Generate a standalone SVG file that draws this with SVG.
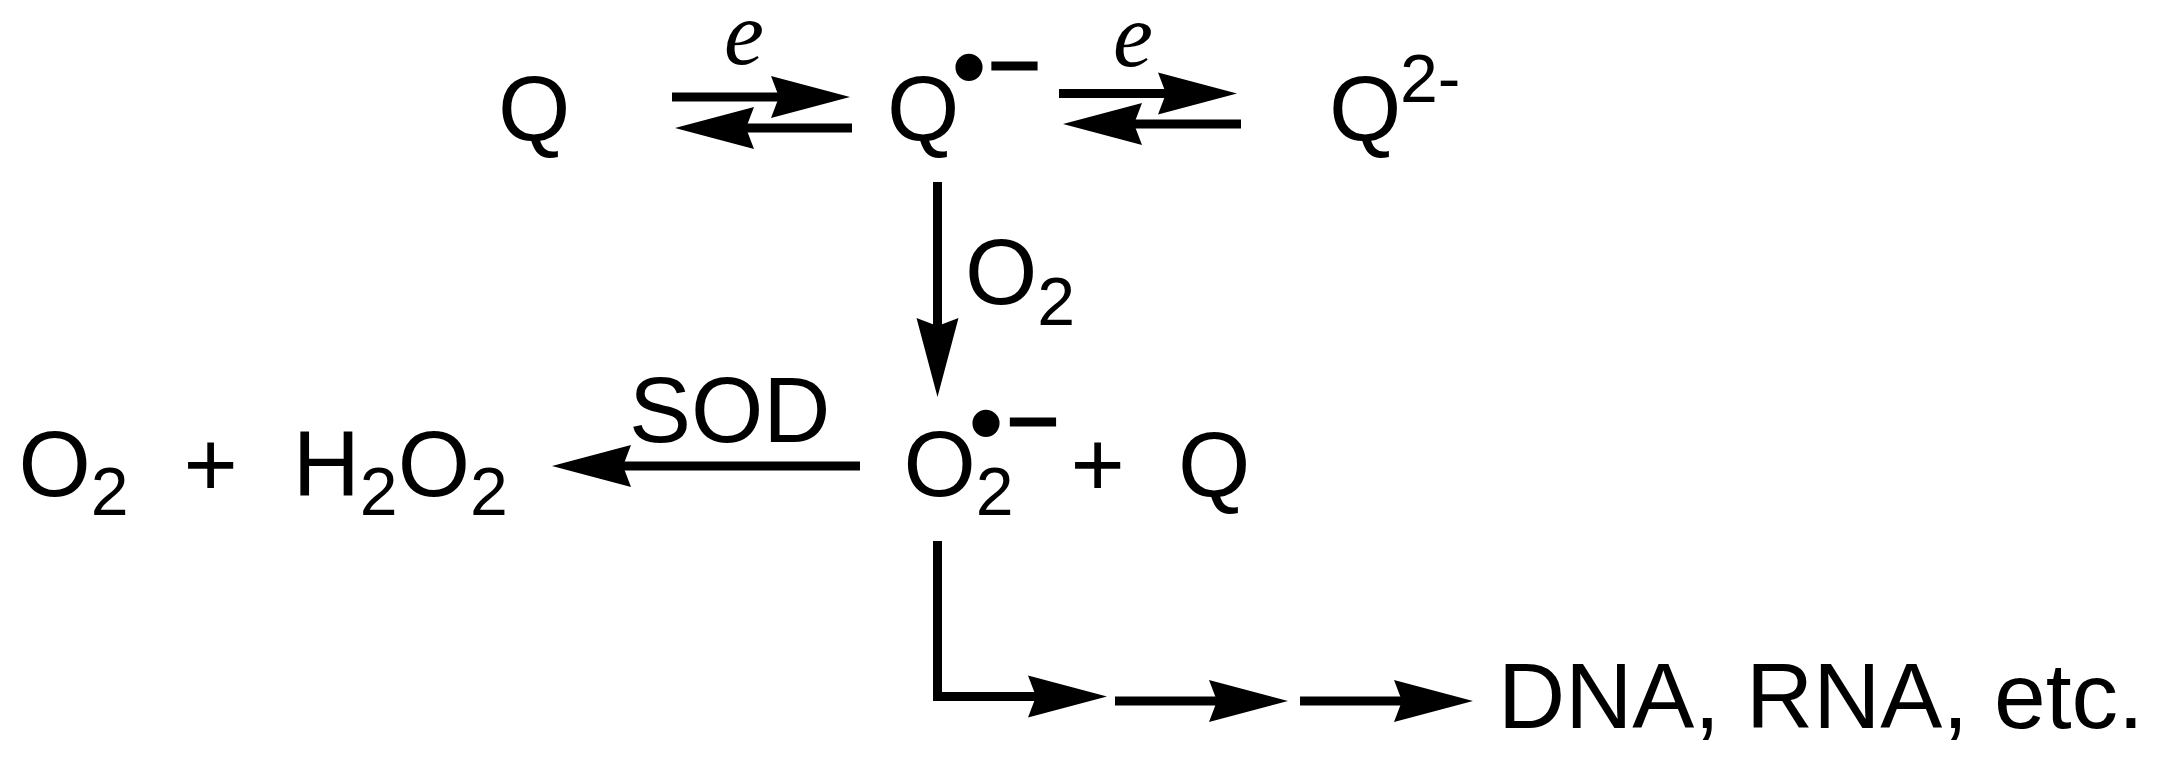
<svg xmlns="http://www.w3.org/2000/svg" width="2160" height="769" viewBox="0 0 2160 769">
<style>
  .t { font-family: "Liberation Sans", Arial, sans-serif; font-size: 93px; fill: #000; }
  .s { font-size: 68px; }
  .e { font-family: "Liberation Serif", "Times New Roman", serif; font-style: italic; font-size: 90px; fill: #000; text-anchor: middle; }
  .dot { font-family: "Liberation Sans", Arial, sans-serif; font-size: 100px; fill: #000; text-anchor: middle; }
  .minus { font-family: "Liberation Sans", Arial, sans-serif; font-size: 90px; fill: #000; text-anchor: middle; stroke: #000; stroke-width: 2.5px; }
  .c { fill: none; stroke: #000; stroke-width: 9; stroke-linejoin: miter; marker-end: url(#ah); }
</style>
<defs>
  <marker id="ah" markerUnits="userSpaceOnUse" viewBox="-10 -22 82 44" refX="0" refY="0" markerWidth="82" markerHeight="44" orient="auto" overflow="visible">
    <path d="M71,0 L-8,-21 L0,0 L-8,21 Z" fill="#000"/>
  </marker>
</defs>
<rect width="2160" height="769" fill="#fff"/>

<g id="connectors">
  <line class="c" x1="672" y1="97" x2="779" y2="97"/>
  <line class="c" x1="852" y1="128" x2="746" y2="128"/>
  <line class="c" x1="1059" y1="93.5" x2="1166" y2="93.5"/>
  <line class="c" x1="1241" y1="124" x2="1134" y2="124"/>
  <line class="c" x1="937.5" y1="182" x2="937.5" y2="326"/>
  <line class="c" x1="860" y1="466" x2="623" y2="466"/>
  <path class="c" d="M937.5,541 V696.5 H1036"/>
  <line class="c" x1="1115" y1="701" x2="1217" y2="701"/>
  <line class="c" x1="1300" y1="701" x2="1402" y2="701"/>
</g>

<g id="labels">
  <text id="lbl-e1" class="e" x="744" y="64">e</text>
  <text id="lbl-e2" class="e" x="1133" y="66">e</text>
  <text id="lbl-O2" class="t" x="965" y="304">O<tspan class="s" y="325">2</tspan></text>
  <text id="lbl-SOD" class="t" x="629" y="442">SOD</text>
</g>

<g id="n-Q">
  <text class="t" x="498" y="140">Q</text>
</g>

<g id="n-Qrad">
  <text class="t" x="887" y="140">Q</text>
  <text class="dot" x="969" y="101">•</text>
  <text class="minus" x="1014.5" y="96">−</text>
</g>

<g id="n-Q2">
  <text class="t" x="1329" y="140">Q<tspan class="s" x="1400" y="102">2-</tspan></text>
</g>

<g id="n-superoxide">
  <text class="t" x="903.5" y="496">O<tspan class="s" y="515">2</tspan></text>
  <text class="dot" x="986" y="457">•</text>
  <text class="minus" x="1033" y="452">−</text>
  <text class="t" x="1070.5" y="496">+</text>
  <text class="t" x="1178" y="496">Q</text>
</g>

<g id="n-products">
  <text class="t" x="18.5" y="496">O<tspan class="s" y="515">2</tspan></text>
  <text class="t" x="183.5" y="496">+</text>
  <text class="t" x="292.7" y="496">H<tspan class="s" y="515">2</tspan><tspan y="496">O</tspan><tspan class="s" y="515">2</tspan></text>
</g>

<g id="n-DNA">
  <text class="t" x="1498" y="728">DNA, RNA, etc.</text>
</g>
</svg>
